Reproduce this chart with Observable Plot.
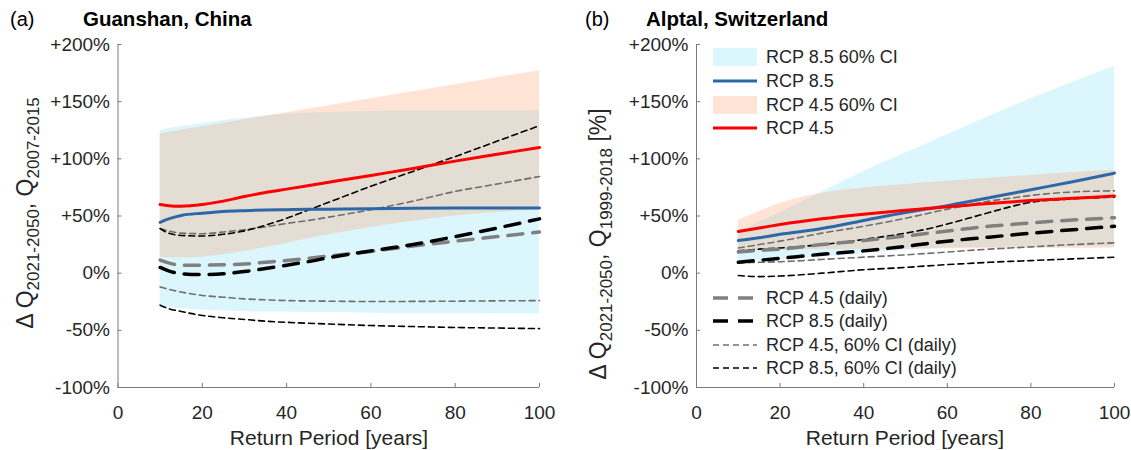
<!DOCTYPE html>
<html>
<head>
<meta charset="utf-8">
<script src="https://cdn.jsdelivr.net/npm/d3@7"></script>
<script src="https://cdn.jsdelivr.net/npm/@observablehq/plot@0.6"></script>
<style>
  html, body { margin: 0; padding: 0; background: #fff; }
  #fig { position: relative; width: 1131px; height: 450px; font-family: "Liberation Sans", Arial, sans-serif; color: #262626; }
  #fig > svg { position: absolute; top: 0; }
</style>
</head>
<body>
<div id="fig"></div>
<script>
// ---- axes ----
const xTicks = [0, 20, 40, 60, 80, 100];
const yTicks = [-100, -50, 0, 50, 100, 150, 200];
const yTickLabels = ["-100%", "-50%", "0%", "+50%", "+100%", "+150%", "+200%"];

// ---- (a) Guanshan, China : change in peak flow vs. return period (%) ----
const periodsA   = [10, 12, 15, 20, 25, 30, 35, 40, 45, 50, 60, 70, 80, 90, 100];
const rcp45A     = [60, 59, 58.5, 60, 63, 67, 70.5, 73.5, 76.5, 79.5, 85.5, 91.5, 98, 104, 110];
const rcp85A     = [44.5, 47.5, 50.5, 52.5, 54, 54.7, 55.2, 55.5, 55.8, 56, 56.4, 56.7, 56.9, 57, 57.1];
const ci85LoA    = [-28, -30, -31, -32.5, -33, -33.5, -34, -34, -34.3, -34.5, -35, -35.2, -35.3, -35.4, -35.5];
const ci85HiA    = [124.5, 126.5, 128, 131, 133.5, 135.5, 137.5, 139, 140, 140.5, 141.5, 142, 142, 142, 142];
const ci45LoA    = [14, 13.7, 13.5, 14, 16, 19, 22.5, 26, 30, 33.5, 40, 45.5, 50, 53, 55.5];
const ci45HiA    = [122, 123.2, 125.1, 128.1, 131.2, 134.2, 137.3, 140.3, 143.4, 146.4, 152.6, 158.7, 164.8, 170.9, 177];
const daily45A   = [11.5, 9, 7, 7, 7.3, 8, 9.5, 11, 13, 15, 19, 23.7, 28, 32, 36];
const daily85A   = [5, 2, -0.5, -1.2, -0.5, 1.5, 4, 7, 10, 13.5, 19.5, 25, 32, 39.5, 47.5];
const daily45HiA = [39, 37, 35, 34.5, 36, 38, 40.5, 43.5, 46, 49, 55.5, 63, 71.5, 78, 84.5];
const daily45LoA = [-12, -14, -16.5, -19.5, -21, -22.5, -23.3, -24, -24.3, -24.5, -24.8, -24.7, -24.5, -24.2, -24];
const daily85HiA = [39, 35, 33, 32.5, 34, 37, 42, 48, 55, 62, 76, 89, 102, 115.5, 129];
const daily85LoA = [-28, -31, -33.5, -37, -39, -40.5, -42, -43, -43.8, -44.5, -45.8, -46.7, -47.5, -48, -48.5];

// ---- (b) Alptal, Switzerland ----
const periodsB   = [10, 15, 20, 30, 40, 50, 55, 60, 65, 70, 75, 80, 90, 100];
const rcp45B     = [36.5, 39.5, 42.5, 47.5, 51.5, 55, 56.5, 58, 59.5, 61, 62.3, 63.5, 65.5, 67.5];
const rcp85B     = [28.5, 31, 34, 39, 46, 53, 56, 59, 62.5, 66, 69.5, 73, 80, 87.5];
const ci85LoB    = [10, 10.8, 11.5, 14, 17, 20, 21, 22, 22.3, 22.5, 22.8, 23, 23, 23];
const ci85HiB    = [36, 44.5, 53, 71, 89, 105, 113, 121, 129, 137, 145, 152.5, 167, 181];
const ci45LoB    = [20, 20, 20, 20.5, 20.8, 21, 21.2, 21.3, 21.4, 21.5, 21.6, 21.7, 21.8, 22];
const ci45HiB    = [46, 54, 61, 70, 74.5, 77.5, 79, 80.5, 81.8, 83, 84.3, 85.5, 88, 90];
const daily45B   = [18.5, 20, 21, 25, 28.5, 32.5, 34.7, 36.8, 39, 41, 42.5, 44, 46.5, 48.5];
const daily85B   = [9.5, 11.3, 13, 16.5, 19.5, 23.5, 25.8, 28, 29.8, 31.5, 33.3, 35, 38, 41];
const daily45HiB = [22, 25, 28, 35, 41, 48, 52, 56, 59.5, 63, 65.5, 68, 71, 72];
const daily45LoB = [9, 9.5, 10, 12, 14, 16, 17.2, 18.5, 19.8, 21, 22, 23, 25, 26.5];
const daily85HiB = [19.5, 21, 22, 25, 29.5, 35, 38.5, 43, 48, 53, 58, 62, 65, 66.5];
const daily85LoB = [-2, -3, -2.5, 0, 3, 5, 6.3, 7.5, 8.5, 9.5, 10.3, 11, 12.5, 14];

// ---- legend entries ----
const legendTop = ["RCP 8.5 60% CI", "RCP 8.5", "RCP 4.5 60% CI", "RCP 4.5"];
const legendBottom = ["RCP 4.5 (daily)", "RCP 8.5 (daily)", "RCP 4.5, 60% CI (daily)", "RCP 8.5, 60% CI (daily)"];

// ---- styles ----
const FONT = '"Liberation Sans", Arial, Helvetica, sans-serif';
const CYAN = "rgb(0,200,240)", CYAN_OP = 0.14;
const ORANGE = "rgb(255,150,100)", ORANGE_OP = 0.27;
const BLUE = "#2c68a8", RED = "#ff0000";
const GREY_THICK = "#808080", GREY_THIN = "#6e6e6e";
const AXIS = "#7a7a7a";
const THICK_DASH = "15,10", THIN_DASH = "6,4";

const fmtY = v => yTickLabels[yTicks.indexOf(v)];

function panel(P, s, {width, marginLeft, marginRight}) {
  const curve = "monotone-x";
  return Plot.plot({
    width, height: 450,
    marginTop: 44, marginBottom: 63, marginLeft, marginRight,
    style: {fontFamily: FONT, fontSize: "19px", color: "#262626", background: "none", overflow: "visible"},
    x: {domain: [0, 100]},
    y: {domain: [-100, 200]},
    marks: [
      Plot.areaY(P, {x: P, y1: s.ci85Lo, y2: s.ci85Hi, fill: CYAN, fillOpacity: CYAN_OP, curve}),
      Plot.areaY(P, {x: P, y1: s.ci45Lo, y2: s.ci45Hi, fill: ORANGE, fillOpacity: ORANGE_OP, curve}),
      Plot.line(P, {x: P, y: s.d45Hi, stroke: GREY_THIN, strokeWidth: 1.6, strokeDasharray: THIN_DASH, curve}),
      Plot.line(P, {x: P, y: s.d45Lo, stroke: GREY_THIN, strokeWidth: 1.6, strokeDasharray: THIN_DASH, curve}),
      Plot.line(P, {x: P, y: s.d85Hi, stroke: "#000", strokeWidth: 1.6, strokeDasharray: THIN_DASH, curve}),
      Plot.line(P, {x: P, y: s.d85Lo, stroke: "#000", strokeWidth: 1.6, strokeDasharray: THIN_DASH, curve}),
      Plot.line(P, {x: P, y: s.d45, stroke: GREY_THICK, strokeWidth: 3.5, strokeDasharray: THICK_DASH, curve}),
      Plot.line(P, {x: P, y: s.d85, stroke: "#000", strokeWidth: 3.5, strokeDasharray: THICK_DASH, curve}),
      Plot.line(P, {x: P, y: s.r85, stroke: BLUE, strokeWidth: 3, curve}),
      Plot.line(P, {x: P, y: s.r45, stroke: RED, strokeWidth: 3, curve}),
      Plot.ruleX([0], {stroke: AXIS}),
      Plot.ruleY([-100], {stroke: AXIS}),
      Plot.axisX({ticks: xTicks, tickSize: -4, tickPadding: 21.5, stroke: AXIS, label: null}),
      Plot.axisY({ticks: yTicks, tickFormat: fmtY, tickSize: -4, tickPadding: 12, stroke: AXIS, label: null})
    ]
  });
}

const fig = document.getElementById("fig");

const plotA = panel(periodsA, {
  r45: rcp45A, r85: rcp85A, ci85Lo: ci85LoA, ci85Hi: ci85HiA, ci45Lo: ci45LoA, ci45Hi: ci45HiA,
  d45: daily45A, d85: daily85A, d45Hi: daily45HiA, d45Lo: daily45LoA, d85Hi: daily85HiA, d85Lo: daily85LoA
}, {width: 565, marginLeft: 117.5, marginRight: 26});
plotA.style.left = "0px";
fig.appendChild(plotA);

const plotB = panel(periodsB, {
  r45: rcp45B, r85: rcp85B, ci85Lo: ci85LoB, ci85Hi: ci85HiB, ci45Lo: ci45LoB, ci45Hi: ci45HiB,
  d45: daily45B, d85: daily85B, d45Hi: daily45HiB, d45Lo: daily45LoB, d85Hi: daily85HiB, d85Lo: daily85LoB
}, {width: 566, marginLeft: 131, marginRight: 17});
plotB.style.left = "565px";
fig.appendChild(plotB);

// ---- titles, axis titles and legend ----
const ov = d3.select(fig).append("svg")
  .attr("width", 1131).attr("height", 450)
  .style("left", "0px").style("pointer-events", "none")
  .attr("font-family", FONT).attr("fill", "#000");

function title(x, tag, nameX, name) {
  ov.append("text").attr("x", x).attr("y", 26).attr("font-size", 20).text(tag);
  ov.append("text").attr("x", nameX).attr("y", 26).attr("font-size", 20.5).attr("font-weight", "bold").text(name);
}
title(10, "(a)", 83, "Guanshan, China");
title(585, "(b)", 646, "Alptal, Switzerland");

function yTitle(x, y, base, suffix) {
  const t = ov.append("text").attr("transform", `translate(${x},${y}) rotate(-90)`)
    .attr("text-anchor", "middle").attr("font-size", 23).attr("fill", "#262626");
  t.append("tspan").text("\u0394 Q");
  t.append("tspan").attr("font-size", 17).attr("dy", 6).text("2021-2050");
  t.append("tspan").attr("dy", -6).text(", Q");
  t.append("tspan").attr("font-size", 17).attr("dy", 6).text(base);
  if (suffix) t.append("tspan").attr("dy", -6).text(suffix);
}
yTitle(33, 213, "2007-2015", "");
yTitle(606, 244, "1999-2018", " [%]");

function xTitle(cx) {
  ov.append("text").attr("x", cx).attr("y", 445).attr("text-anchor", "middle")
    .attr("font-size", 21).attr("fill", "#262626").text("Return Period [years]");
}
xTitle(329);
xTitle(905);

// legend (panel b)
const LX0 = 713, LX1 = 757, LTX = 766;
const topRows = [57, 81, 105, 128];
const topStyles = [
  {kind: "box", fill: CYAN, op: CYAN_OP},
  {kind: "line", stroke: BLUE, w: 3},
  {kind: "box", fill: ORANGE, op: ORANGE_OP},
  {kind: "line", stroke: RED, w: 3}
];
const bottomRows = [298, 321, 345, 368];
const bottomStyles = [
  {kind: "line", stroke: GREY_THICK, w: 3.5, dash: THICK_DASH},
  {kind: "line", stroke: "#000", w: 3.5, dash: THICK_DASH},
  {kind: "line", stroke: GREY_THIN, w: 1.6, dash: THIN_DASH},
  {kind: "line", stroke: "#000", w: 1.6, dash: THIN_DASH}
];
function legend(labels, rows, styles) {
  labels.forEach((lab, i) => {
    const y = rows[i], st = styles[i];
    if (st.kind === "box") {
      ov.append("rect").attr("x", LX0).attr("y", y - 9).attr("width", LX1 - LX0).attr("height", 18)
        .attr("fill", st.fill).attr("fill-opacity", st.op);
    } else {
      ov.append("line").attr("x1", LX0).attr("x2", LX1).attr("y1", y).attr("y2", y)
        .attr("stroke", st.stroke).attr("stroke-width", st.w).attr("stroke-dasharray", st.dash || null);
    }
    ov.append("text").attr("x", LTX).attr("y", y).attr("dy", "0.35em").attr("font-size", 18)
      .attr("fill", "#262626").text(lab);
  });
}
legend(legendTop, topRows, topStyles);
legend(legendBottom, bottomRows, bottomStyles);
</script>
</body>
</html>
